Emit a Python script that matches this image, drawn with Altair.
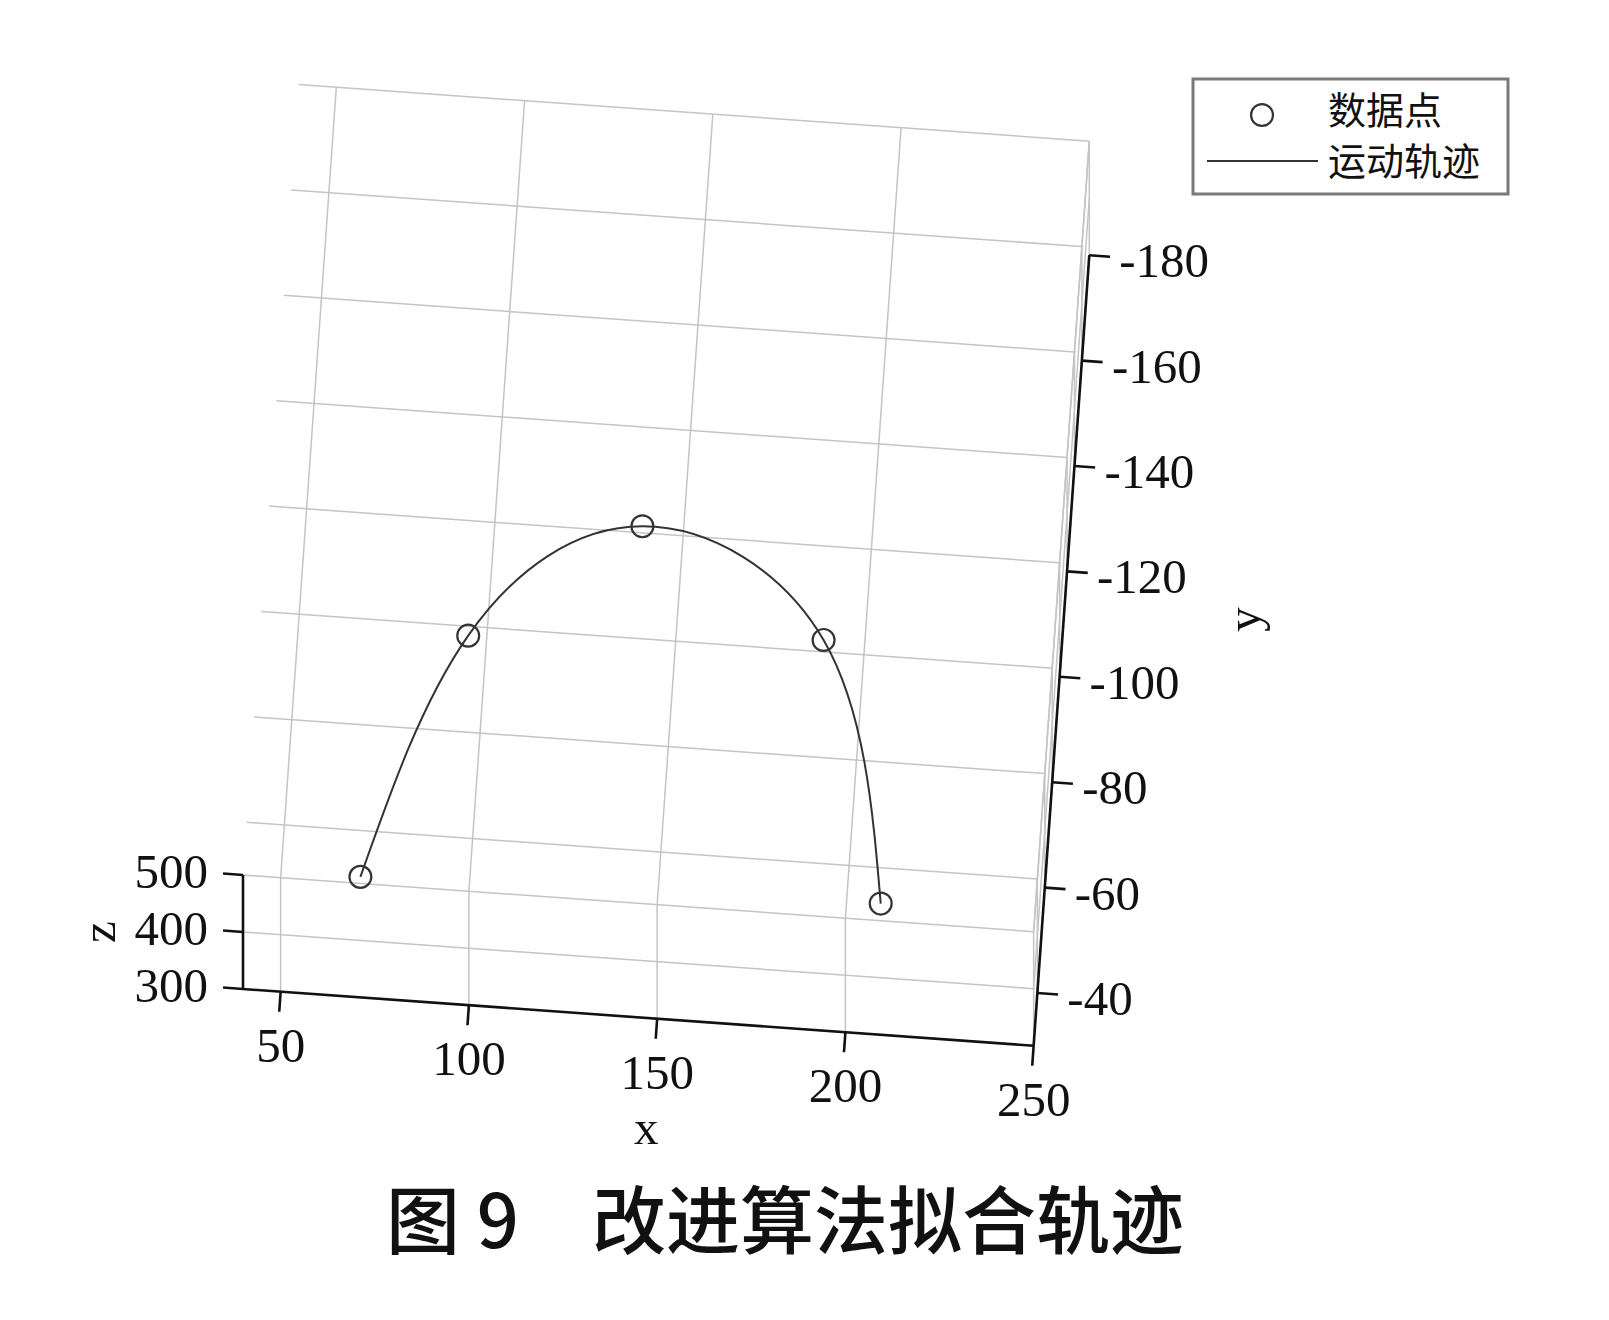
import altair as alt
import pandas as pd

# Axis limits and tick values of the 3-D box
X_LIM = [40, 250]
Y_LIM = [-180, -30]
Z_LIM = [300, 500]
X_TICKS = [50, 100, 150, 200, 250]
Y_TICKS = [-180, -160, -140, -120, -100, -80, -60, -40]
Z_TICKS = [300, 400, 500]

# Trajectory data points (x, y, z)
PX = [70, 94, 138, 188, 208]
PY = [-42, -89, -112, -93, -44]
PZ = [400, 400, 400, 400, 400]

TITLE_NUM = "图 9"
TITLE_TEXT = "改进算法拟合轨迹"
LEGEND_LABELS = ["数据点", "运动轨迹"]

W, H = 1609, 1320

# Orthographic view: screen position of the (xmin, ymax, zmin) corner and the
# screen displacement of one data unit along each axis.
ORIGIN = (243.0, 989.0)
EX = (3.765, 0.27)
EY = (-0.371, 5.27)
EZ = (0.0, -0.57)

xmin, xmax = X_LIM
ymin, ymax = Y_LIM
zmin, zmax = Z_LIM


def proj(x, y, z):
    dx, dy, dz = x - xmin, y - ymax, z - zmin
    return (ORIGIN[0] + dx * EX[0] + dy * EY[0] + dz * EZ[0],
            ORIGIN[1] + dx * EX[1] + dy * EY[1] + dz * EZ[1])


def seg(p, q):
    u1, v1 = proj(*p)
    u2, v2 = proj(*q)
    return {"u": u1, "v": v1, "u2": u2, "v2": v2}


# grid on the three back planes: z = zmax, y = ymax, x = xmax
grid = []
for x in X_TICKS:
    grid.append(seg((x, ymax, zmax), (x, ymin, zmax)))
    grid.append(seg((x, ymax, zmin), (x, ymax, zmax)))
for y in Y_TICKS:
    grid.append(seg((xmin, y, zmax), (xmax, y, zmax)))
    grid.append(seg((xmax, y, zmin), (xmax, y, zmax)))
for z in Z_TICKS:
    grid.append(seg((xmin, ymax, z), (xmax, ymax, z)))
    grid.append(seg((xmax, ymin, z), (xmax, ymax, z)))
grid_df = pd.DataFrame(grid)

# axis lines and tick marks
axes = [
    seg((xmin, ymax, zmin), (xmax, ymax, zmin)),
    seg((xmax, ymax, zmin), (xmax, ymin, zmin)),
    seg((xmin, ymax, zmin), (xmin, ymax, zmax)),
]
for x in X_TICKS:
    axes.append(seg((x, ymax, zmin), (x, ymax + 3.8, zmin)))
for y in Y_TICKS:
    axes.append(seg((xmax, y, zmin), (xmax + 5.5, y, zmin)))
for z in Z_TICKS:
    axes.append(seg((xmin, ymax, z), (xmin - 5.3, ymax, z)))
axes_df = pd.DataFrame(axes)


# tick labels
def lab(pt, du, dv, text):
    u, v = proj(*pt)
    return {"u": u + du, "v": v + dv, "t": text}


xl = pd.DataFrame([lab((x, ymax, zmin), 0, 55, str(x)) for x in X_TICKS])
yl = pd.DataFrame([lab((xmax, y, zmin), 30, 7, str(y)) for y in Y_TICKS])
zl = pd.DataFrame([lab((xmin, ymax, z), -35, -2, str(z)) for z in Z_TICKS])

# axis titles
xt = pd.DataFrame([lab(((xmin + xmax) / 2, ymax, zmin), 8, 112, "x")])
yt = pd.DataFrame([lab((xmax, (ymin + ymax) / 2, zmin), 184, -31, "y")])
zt = pd.DataFrame([lab((xmin, ymax, (zmin + zmax) / 2), -143, 0, "z")])

# trajectory data
pts = pd.DataFrame([
    dict(zip(("u", "v"), proj(x, y, z)), i=i)
    for i, (x, y, z) in enumerate(zip(PX, PY, PZ))
])

XS = alt.Scale(domain=[0, W], nice=False, zero=False)
YS = alt.Scale(domain=[0, H], nice=False, zero=False, reverse=True)


def enc_xy(**kw):
    return dict(x=alt.X("u:Q", scale=XS, axis=None),
                y=alt.Y("v:Q", scale=YS, axis=None), **kw)


def rules(df, color, width):
    return alt.Chart(df).mark_rule(color=color, strokeWidth=width).encode(
        **enc_xy(x2="u2:Q", y2="v2:Q"))


def texts(df, size, align="center", angle=0, font="Liberation Serif", weight="normal"):
    return alt.Chart(df).mark_text(
        font=font, fontSize=size, align=align, baseline="middle",
        angle=angle, color="#111111", fontWeight=weight
    ).encode(**enc_xy(text="t:N"))


grid_layer = rules(grid_df, "#c4c4c4", 1.5)
axes_layer = rules(axes_df, "#111111", 2.6)

curve = alt.Chart(pts).mark_line(
    interpolate="natural", color="#333333", strokeWidth=2
).encode(**enc_xy(order="i:Q"))

markers = alt.Chart(pts).mark_point(
    shape="circle", filled=False, size=480, color="#333333", strokeWidth=2.2, opacity=1
).encode(**enc_xy())

# legend box
legend_box = alt.Chart(pd.DataFrame([{"u": 1193, "v": 79, "u2": 1508, "v2": 194}])).mark_rect(
    fill="white", stroke="#7a7a7a", strokeWidth=3
).encode(**enc_xy(x2="u2:Q", y2="v2:Q"))
legend_marker = alt.Chart(pd.DataFrame([{"u": 1262, "v": 115}])).mark_point(
    shape="circle", filled=False, size=480, color="#333333", strokeWidth=2.2, opacity=1
).encode(**enc_xy())
legend_line = rules(pd.DataFrame([{"u": 1207, "v": 161, "u2": 1318, "v2": 161}]), "#333333", 2.2)
legend_text = texts(
    pd.DataFrame([{"u": 1328, "v": 113, "t": LEGEND_LABELS[0]},
                  {"u": 1328, "v": 164, "t": LEGEND_LABELS[1]}]),
    38, align="left", font="Noto Sans CJK SC")

title_left = texts(pd.DataFrame([{"u": 386, "v": 1226, "t": TITLE_NUM}]),
                   74, align="left", font="Noto Sans CJK SC", weight=500)
title_right = texts(pd.DataFrame([{"u": 592, "v": 1226, "t": TITLE_TEXT}]),
                    74, align="left", font="Noto Sans CJK SC", weight=500)

chart = alt.layer(
    grid_layer, axes_layer, curve, markers,
    texts(xl, 49), texts(yl, 49, align="left"), texts(zl, 49, align="right"),
    texts(xt, 49), texts(yt, 49, angle=270), texts(zt, 49, angle=270),
    legend_box, legend_marker, legend_line, legend_text,
    title_left, title_right,
).properties(
    width=W, height=H, padding=0, autosize="none", background="white"
).configure_view(stroke=None)

chart.save("out.html", embed_options={"renderer": "svg", "actions": False})
